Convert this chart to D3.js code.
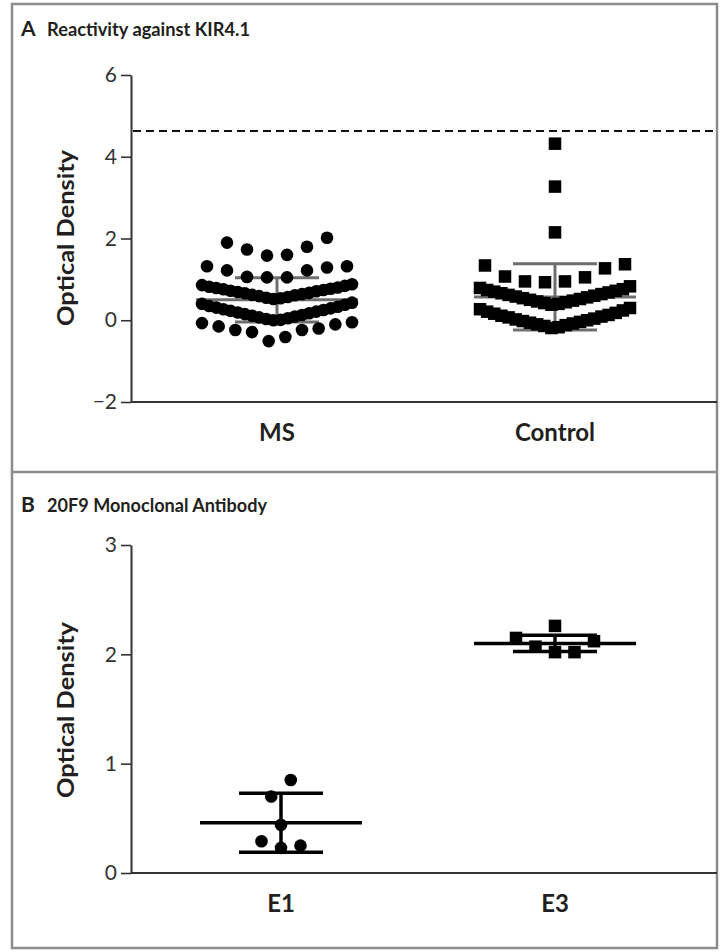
<!DOCTYPE html>
<html lang="en">
<head>
<meta charset="UTF-8">
<title>KIR4.1 reactivity</title>
<script src="https://cdn.jsdelivr.net/npm/d3@7"></script>
<style>
  html, body { margin: 0; padding: 0; background: #fff; }
  svg { display: block; font-family: Lato, "Open Sans", sans-serif; }
</style>
</head>
<body>
<svg id="chart" width="720" height="952"></svg>
<script>
// ---- panel A: reactivity against KIR4.1 ----
const groupsA = ['MS', 'Control'];
const ticksA = [-2, 0, 2, 4, 6];
const msValues = [
  1.90, 1.73, 1.58, 1.60, 1.80, 2.02,
  1.29, 1.22, 1.32, 1.32, 1.05, 1.22, 1.06, 1.05,
  0.52, 0.54, 0.55, 0.57, 0.59, 0.61, 0.62, 0.64, 0.66, 0.67, 0.69,
  0.71, 0.72, 0.74, 0.76, 0.77, 0.79, 0.80, 0.82, 0.84, 0.86, 0.88,
  0.00, 0.01, 0.03, 0.05, 0.07, 0.09, 0.11, 0.13, 0.15, 0.17, 0.19,
  0.21, 0.23, 0.25, 0.27, 0.29, 0.31, 0.33, 0.35, 0.38, 0.40, 0.43,
  -0.51, -0.41, -0.29, -0.24, -0.24, -0.20, -0.15, -0.10, -0.07, -0.05
];
const controlValues = [
  4.32, 3.27, 2.15,
  1.34, 1.07, 0.95, 0.93, 0.95, 1.05, 1.27, 1.37,
  0.38, 0.40, 0.42, 0.44, 0.46, 0.48, 0.50, 0.52, 0.54, 0.56, 0.58,
  0.60, 0.62, 0.64, 0.66, 0.68, 0.70, 0.72, 0.74, 0.76, 0.79, 0.83,
  -0.19, -0.17, -0.14, -0.12, -0.10, -0.08, -0.06, -0.04, -0.02, 0.00, 0.02,
  0.04, 0.07, 0.09, 0.11, 0.13, 0.16, 0.18, 0.21, 0.24, 0.27, 0.30
];
const meanA = [0.50, 0.57];
const sdA = [0.54, 0.81];
const cutoffA = 4.63;

// ---- panel B: 20F9 monoclonal antibody ----
const groupsB = ['E1', 'E3'];
const ticksB = [0, 1, 2, 3];
const e1Values = [0.85, 0.70, 0.44, 0.29, 0.23, 0.25];
const e3Values = [2.12, 2.07, 2.26, 2.02, 2.02, 2.15];
const meanB = [0.46, 2.10];
const sdB = [0.27, 0.075];

const svg = d3.select('#chart');
const ink = '#231f20';

// frame
svg.append('rect')
  .attr('x', 12).attr('y', 4).attr('width', 705).attr('height', 944)
  .attr('fill', 'none').attr('stroke', '#8c8c8c').attr('stroke-width', 2.5);
svg.append('line')
  .attr('x1', 12).attr('x2', 717).attr('y1', 472).attr('y2', 472)
  .attr('stroke', '#8c8c8c').attr('stroke-width', 2.5);

// GraphPad-like column scatter: group close values into rows, spread each row from the centre out
function columnScatter(values, y, rowPx, maxStep, maxWidth) {
  const sorted = values.slice().sort((a, b) => a - b);
  const rows = [];
  let row = null;
  for (const v of sorted) {
    if (!row || Math.abs(y(v) - y(row[0])) > rowPx) { row = [v]; rows.push(row); }
    else row.push(v);
  }
  const out = [];
  rows.forEach(r => {
    const n = r.length;
    const step = n > 1 ? Math.min(maxStep, maxWidth / (n - 1)) : 0;
    r.forEach((v, i) => {
      let slot;
      if (n % 2) slot = i === 0 ? 0 : Math.ceil(i / 2) * (i % 2 ? 1 : -1);
      else slot = (Math.floor(i / 2) + 0.5) * (i % 2 ? 1 : -1);
      out.push({ v, dx: slot * step });
    });
  });
  return out;
}

function panel(opt) {
  const g = svg.append('g');
  const y = d3.scaleLinear().domain(opt.domain).range(opt.yRange);
  const x = d3.scalePoint().domain(opt.groups).range(opt.xRange);
  const y0 = opt.yRange[0];

  g.append('text').attr('x', 21).attr('y', opt.titleY)
    .attr('font-size', 21).attr('font-weight', 700).attr('fill', ink).text(opt.letter);
  g.append('text').attr('x', 47).attr('y', opt.titleY)
    .attr('font-size', 19.5).attr('font-weight', 700).attr('fill', ink)
    .attr('textLength', opt.titleLen).attr('lengthAdjust', 'spacingAndGlyphs')
    .text(opt.title);

  // y axis
  const ya = g.append('g').attr('transform', 'translate(131,0)')
    .call(d3.axisLeft(y).tickValues(opt.ticks).tickFormat(d3.format('d'))
      .tickSize(10).tickSizeOuter(0).tickPadding(4));
  ya.select('.domain').attr('stroke', '#333').attr('stroke-width', 2);
  ya.selectAll('.tick line').attr('stroke', '#333').attr('stroke-width', 1.6);
  ya.selectAll('.tick text').attr('font-size', 21).attr('fill', '#333')
    .attr('font-family', 'Lato, sans-serif');

  g.append('text')
    .attr('transform', `translate(74,${opt.labelY}) rotate(-90)`)
    .attr('text-anchor', 'middle').attr('font-size', 23).attr('font-weight', 700)
    .attr('fill', ink).attr('textLength', 176).attr('lengthAdjust', 'spacingAndGlyphs')
    .text('Optical Density');

  // x axis: plain baseline with category names
  g.append('line').attr('x1', 131).attr('x2', 717).attr('y1', y0).attr('y2', y0)
    .attr('stroke', '#333').attr('stroke-width', 2);
  g.selectAll('.cat').data(opt.groups).join('text')
    .attr('x', d => x(d)).attr('y', y0 + 39)
    .attr('text-anchor', 'middle').attr('font-size', 24).attr('font-weight', 700)
    .attr('fill', ink).text(d => d);

  if (opt.cutoff != null) {
    g.append('line').attr('x1', 133).attr('x2', 717)
      .attr('y1', y(opt.cutoff)).attr('y2', y(opt.cutoff))
      .attr('stroke', '#111').attr('stroke-width', 2).attr('stroke-dasharray', '8,5');
  }

  // mean +/- SD
  const eb = g.selectAll('.eb').data(opt.groups).join('g')
    .attr('stroke', opt.barColor).attr('stroke-width', opt.barWidth).attr('fill', 'none');
  eb.append('line')
    .attr('x1', d => x(d) - 81).attr('x2', d => x(d) + 81)
    .attr('y1', (d, i) => y(opt.mean[i])).attr('y2', (d, i) => y(opt.mean[i]));
  eb.append('line')
    .attr('x1', d => x(d)).attr('x2', d => x(d))
    .attr('y1', (d, i) => y(opt.mean[i] + opt.sd[i])).attr('y2', (d, i) => y(opt.mean[i] - opt.sd[i]));
  [1, -1].forEach(s => {
    eb.append('line')
      .attr('x1', d => x(d) - 42).attr('x2', d => x(d) + 42)
      .attr('y1', (d, i) => y(opt.mean[i] + s * opt.sd[i]))
      .attr('y2', (d, i) => y(opt.mean[i] + s * opt.sd[i]));
  });

  // points
  const circ = columnScatter(opt.values[0], y, 20.5, opt.maxStep, 150);
  g.selectAll('.dot').data(circ).join('circle')
    .attr('cx', d => x(opt.groups[0]) + d.dx).attr('cy', d => y(d.v))
    .attr('r', 6.3).attr('fill', '#000');
  const sq = columnScatter(opt.values[1], y, 20.5, opt.maxStep, 150);
  const s = 12.5;
  g.selectAll('.sq').data(sq).join('rect')
    .attr('x', d => x(opt.groups[1]) + d.dx - s / 2).attr('y', d => y(d.v) - s / 2)
    .attr('width', s).attr('height', s).attr('fill', '#000');
}

panel({
  letter: 'A', title: 'Reactivity against KIR4.1', titleY: 36, titleLen: 203,
  groups: groupsA, ticks: ticksA, domain: [-2, 6], yRange: [402, 75],
  xRange: [277, 555], labelY: 238, cutoff: cutoffA,
  mean: meanA, sd: sdA, barColor: '#6e6e6e', barWidth: 3,
  values: [msValues, controlValues], maxStep: 20
});

panel({
  letter: 'B', title: '20F9 Monoclonal Antibody', titleY: 512, titleLen: 220,
  groups: groupsB, ticks: ticksB, domain: [0, 3], yRange: [873, 545],
  xRange: [281, 555], labelY: 710, cutoff: null,
  mean: meanB, sd: sdB, barColor: '#000', barWidth: 3.5,
  values: [e1Values, e3Values], maxStep: 19.5
});
</script>
</body>
</html>
